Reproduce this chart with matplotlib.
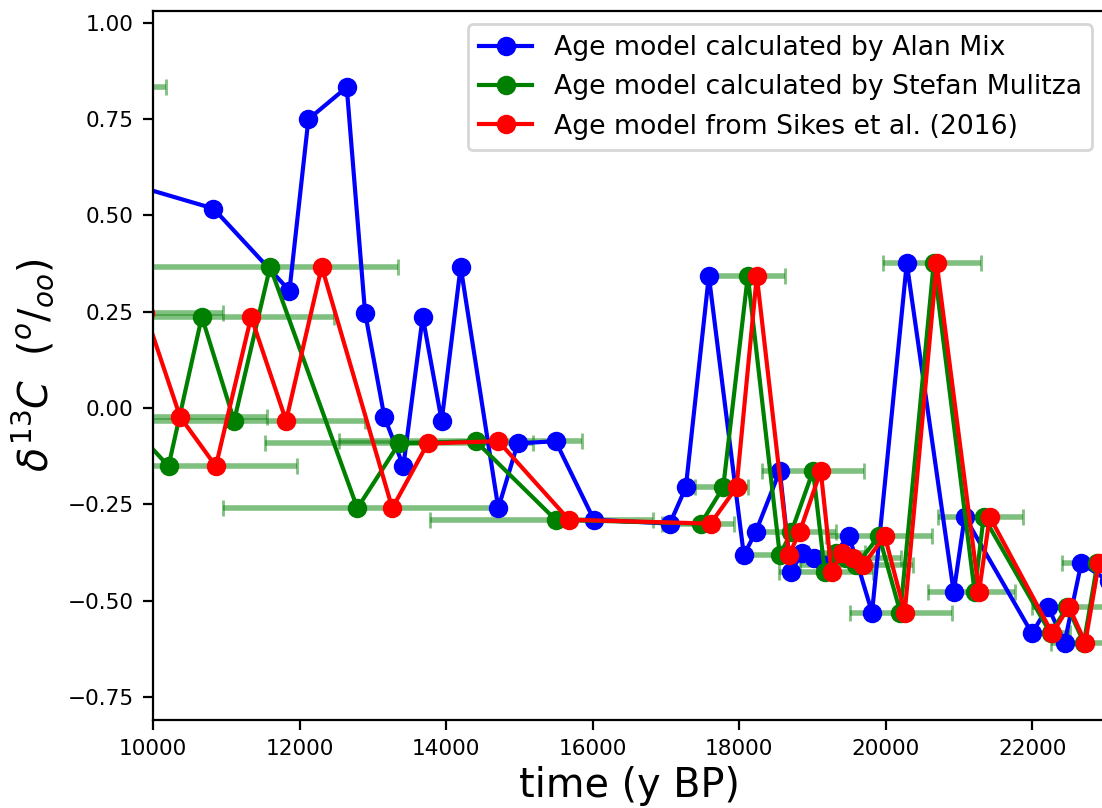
import matplotlib
matplotlib.use("Agg")
import matplotlib.pyplot as plt
import numpy as np

# shared d13C values (per mille)
d13c = [0.600, 0.518, 0.305, 0.750, 0.833, 0.248, -0.023, -0.151, 0.237, -0.033,
        0.367, -0.260, -0.092, -0.086, -0.290, -0.300, -0.206, 0.343, -0.382, -0.321,
        -0.163, -0.425, -0.376, -0.390, -0.408, -0.332, -0.531, 0.376, -0.478, -0.282,
        -0.585, -0.516, -0.609, -0.403, -0.450]

# ages (y BP) for each age model
age_mix = [9356, 10823, 11860, 12119, 12642, 12892, 13156, 13415, 13679, 13938,
           14197, 14711, 14975, 15493, 16016, 17053, 17271, 17585, 18063, 18227,
           18554, 18704, 18863, 19018, 19170, 19499, 19813, 20287, 20928, 21078,
           21996, 22214, 22442, 22669, 23050]
age_mulitza = [6500, 7000, 7400, 7900, 8400, 9150, 9590, 10209, 10664, 11105,
               11596, 12787, 13356, 14402, 15493, 17476, 17781, 18117, 18554, 18713,
               19008, 19168, 19327, 19460, 19600, 19909, 20200, 20655, 21214, 21337,
               22250, 22480, 22705, 22890, 23300]
age_sikes = [7500, 8000, 8500, 9000, 9500, 9891, 10368, 10855, 11337, 11814,
             12301, 13264, 13747, 14711, 15675, 17609, 17963, 18240, 18677, 18827,
             19113, 19260, 19404, 19554, 19691, 19986, 20259, 20696, 21273, 21419,
             22273, 22501, 22724, 22909, 23320]

# Mulitza age model uncertainty range (y BP)
mul_lo = [4700, 5200, 5600, 6100, 6600, 7350, 7630, 8458, 8855, 9318,
          9854, 10951, 11528, 12538, 13779, 16949, 17394, 17617, 17995, 18145,
          18316, 18544, 18936, 18706, 18828, 19190, 19509, 19959, 20577, 20713,
          21990, 22000, 22260, 22405, 23050]
mul_hi = [8300, 8800, 9200, 9700, 10177, 10951, 11551, 11960, 12473, 12892,
          13338, 14623, 15180, 15849, 16826, 17932, 18113, 18627, 19113, 19327,
          19700, 19823, 19718, 20214, 20372, 20632, 20905, 21303, 21760, 21873,
          22510, 22960, 23150, 23375, 23900]

labels = ["Age model calculated by Alan Mix",
          "Age model calculated by Stefan Mulitza",
          "Age model from Sikes et al. (2016)"]

W, H = 1102, 808
fig = plt.figure(figsize=(W / 200, H / 200), dpi=200)
left, right, top, bottom = 153.2, 1105.5, 11, 720
ax = fig.add_axes([left / W, (H - bottom) / H, (right - left) / W, (bottom - top) / H])

am = np.array(age_mulitza, float)
xerr = [am - np.array(mul_lo), np.array(mul_hi) - am]
ax.errorbar(am, d13c, xerr=xerr, fmt='none', ecolor='g', alpha=0.5,
            elinewidth=2, capsize=3)
ax.plot(age_mix, d13c, 'b-o', lw=1.5, ms=6, label=labels[0])
ax.plot(age_mulitza, d13c, 'g-o', lw=1.5, ms=6, label=labels[1])
ax.plot(age_sikes, d13c, 'r-o', lw=1.5, ms=6, label=labels[2])

ax.set_xlim(10000, 23000)
ax.set_ylim(-0.810, 1.031)
ax.set_yticks([-0.75, -0.5, -0.25, 0.0, 0.25, 0.5, 0.75, 1.0])
ax.set_xticks([10000, 12000, 14000, 16000, 18000, 20000, 22000])
ax.tick_params(labelsize=7.8)
ax.set_xlabel("time (y BP)", fontsize=14.3, labelpad=2.5)
ax.set_ylabel(r"$\delta^{13}C$  ($^o/_{oo}$)", fontsize=14.3)
ax.legend(loc='upper right', fontsize=9.6)

fig.savefig("out.png", dpi=200)
